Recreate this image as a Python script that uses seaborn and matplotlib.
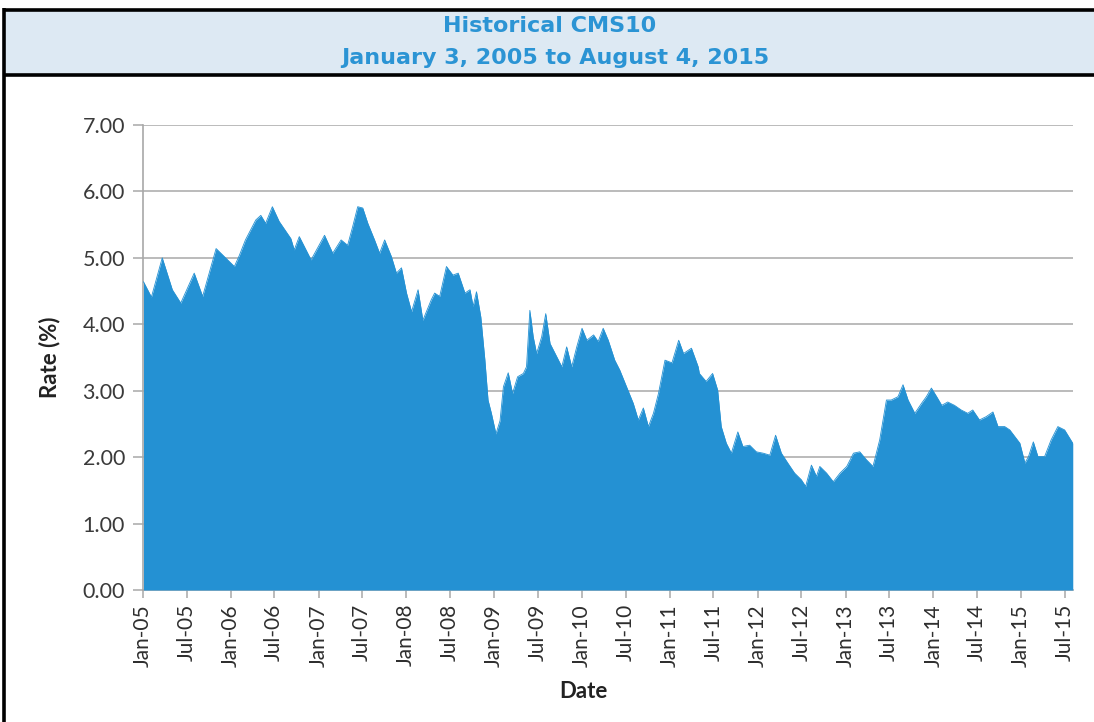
import pandas as pd
import numpy as np
import matplotlib
matplotlib.use("Agg")
import matplotlib.pyplot as plt
import matplotlib.dates as mdates
from matplotlib.patches import Rectangle
from matplotlib.lines import Line2D
import seaborn as sns

# Werte (CMS10, %)
dates = [
    "2005-01-03", "2005-02-05", "2005-03-22", "2005-05-03", "2005-06-07", "2005-08-02",
    "2005-09-06", "2005-11-01", "2005-12-05", "2006-01-16", "2006-02-06", "2006-03-03",
    "2006-04-15", "2006-05-06", "2006-05-26", "2006-06-23", "2006-07-21", "2006-09-08",
    "2006-09-22", "2006-10-13", "2006-12-01", "2007-01-26", "2007-03-01", "2007-04-05",
    "2007-05-02", "2007-05-23", "2007-06-13", "2007-07-04", "2007-07-25", "2007-08-22",
    "2007-09-12", "2007-10-03", "2007-10-31", "2007-11-21", "2007-12-12", "2008-01-02",
    "2008-01-23", "2008-02-19", "2008-03-10", "2008-04-14", "2008-04-28", "2008-05-19",
    "2008-06-16", "2008-07-13", "2008-08-04", "2008-09-01", "2008-09-22", "2008-10-05",
    "2008-10-19", "2008-11-06", "2008-11-23", "2008-12-06", "2008-12-20", "2009-01-08",
    "2009-01-25", "2009-02-08", "2009-02-28", "2009-03-18", "2009-04-08", "2009-05-02",
    "2009-05-15", "2009-05-29", "2009-06-12", "2009-06-26", "2009-07-17", "2009-08-03",
    "2009-08-21", "2009-09-18", "2009-10-09", "2009-10-29", "2009-11-19", "2009-12-10",
    "2010-01-01", "2010-01-21", "2010-02-18", "2010-03-09", "2010-03-30", "2010-04-20",
    "2010-05-17", "2010-06-07", "2010-07-05", "2010-08-02", "2010-08-23", "2010-09-13",
    "2010-10-04", "2010-10-25", "2010-11-15", "2010-12-12", "2011-01-10", "2011-02-07",
    "2011-02-27", "2011-04-01", "2011-04-29", "2011-05-04", "2011-06-01", "2011-06-28",
    "2011-07-19", "2011-08-03", "2011-08-24", "2011-09-14", "2011-10-11", "2011-11-01",
    "2011-11-29", "2011-12-27", "2012-01-24", "2012-02-21", "2012-03-16", "2012-04-09",
    "2012-05-06", "2012-06-03", "2012-07-01", "2012-07-19", "2012-08-12", "2012-09-02",
    "2012-09-16", "2012-10-14", "2012-11-11", "2012-12-09", "2013-01-06", "2013-02-03",
    "2013-03-01", "2013-03-29", "2013-04-25", "2013-05-23", "2013-06-20", "2013-07-10",
    "2013-08-07", "2013-08-28", "2013-09-18", "2013-10-16", "2013-11-13", "2013-12-03",
    "2013-12-24", "2014-01-15", "2014-02-05", "2014-03-02", "2014-03-30", "2014-04-27",
    "2014-05-24", "2014-06-14", "2014-07-12", "2014-08-09", "2014-09-06", "2014-09-27",
    "2014-10-25", "2014-11-15", "2014-12-06", "2014-12-27", "2015-01-17", "2015-02-01",
    "2015-02-21", "2015-03-12", "2015-04-09", "2015-05-06", "2015-06-03", "2015-07-01",
    "2015-08-04",
]
rates = [
    4.64, 4.41, 5.00, 4.52, 4.32, 4.77,
    4.42, 5.14, 5.02, 4.87, 5.04, 5.27,
    5.57, 5.64, 5.52, 5.77, 5.55, 5.29,
    5.12, 5.32, 4.97, 5.34, 5.07, 5.27,
    5.19, 5.47, 5.77, 5.75, 5.52, 5.27,
    5.07, 5.27, 5.02, 4.77, 4.85, 4.47,
    4.19, 4.52, 4.06, 4.37, 4.47, 4.42,
    4.87, 4.74, 4.77, 4.47, 4.52, 4.27,
    4.49, 4.11, 3.46, 2.86, 2.66, 2.35,
    2.55, 3.06, 3.27, 2.96, 3.21, 3.26,
    3.36, 4.21, 3.81, 3.56, 3.81, 4.16,
    3.71, 3.51, 3.36, 3.66, 3.36, 3.66,
    3.94, 3.76, 3.84, 3.74, 3.94, 3.76,
    3.46, 3.31, 3.06, 2.81, 2.56, 2.74,
    2.46, 2.66, 2.96, 3.46, 3.42, 3.76,
    3.56, 3.64, 3.36, 3.26, 3.14, 3.26,
    3.01, 2.46, 2.21, 2.06, 2.38, 2.16,
    2.18, 2.08, 2.06, 2.03, 2.33, 2.06,
    1.91, 1.76, 1.66, 1.56, 1.88, 1.71,
    1.86, 1.76, 1.63, 1.76, 1.86, 2.06,
    2.08, 1.96, 1.86, 2.26, 2.86, 2.86,
    2.91, 3.09, 2.86, 2.66, 2.81, 2.91,
    3.04, 2.91, 2.78, 2.83, 2.78, 2.71,
    2.66, 2.71, 2.56, 2.61, 2.68, 2.46,
    2.46, 2.41, 2.31, 2.21, 1.91, 2.01,
    2.23, 2.01, 2.01, 2.26, 2.46, 2.41,
    2.21,
]
y_ticks = [0, 1, 2, 3, 4, 5, 6, 7]
title_lines = ["Historical CMS10", "January 3, 2005 to August 4, 2015"]

df = pd.DataFrame({"Date": pd.to_datetime(dates), "Rate": rates})

sns.set_style("white")
plt.rcParams['font.family'] = ['Lato', 'DejaVu Sans']

fill_col = '#2491d3'
title_col = '#2b94d4'
W, H = 1094, 722
fig = plt.figure(figsize=(W / 100, H / 100), dpi=100)
fig.patch.set_facecolor('white')

# Kopfzeile mit Rahmen (rechts offen, wie im Original)
fig.patches.append(Rectangle((4 / W, 1 - 74 / H), 1.1, 65 / H, transform=fig.transFigure,
                             facecolor='#dde9f3', edgecolor='none', zorder=0))
for xs, ys in [([4 / W, 1.0], [1 - 9.5 / H] * 2), ([4 / W, 1.0], [1 - 74.5 / H] * 2),
               ([4 / W] * 2, [1 - 8 / H, 0])]:
    fig.lines.append(Line2D(xs, ys, transform=fig.transFigure, color='black', linewidth=2.6,
                            solid_capstyle='butt'))
fig.text(550 / W, 1 - 26 / H, title_lines[0], ha='center', va='center', color=title_col,
         fontsize=16, fontweight='bold', family=['DejaVu Sans'])
fig.text(555 / W, 1 - 58 / H, title_lines[1], ha='center', va='center', color=title_col,
         fontsize=16, fontweight='bold', family=['DejaVu Sans'])

ax = fig.add_axes([143 / W, 1 - 590 / H, (1073 - 143) / W, (590 - 125) / H])
sns.lineplot(data=df, x="Date", y="Rate", color=fill_col, linewidth=0.6, ax=ax, zorder=3)
ax.fill_between(df["Date"], 0, df["Rate"], color=fill_col, linewidth=0, zorder=3)

ax.set_ylim(0, 7)
ax.set_xlim(pd.Timestamp("2005-01-01"), pd.Timestamp("2015-08-05"))
ax.set_yticks(y_ticks)
ax.set_yticklabels([f"{v:.2f}" for v in y_ticks])
ax.yaxis.grid(True, color='#b5b5b5', linewidth=1.3)
ax.xaxis.grid(False)
ax.set_axisbelow(True)

ax.xaxis.set_major_locator(mdates.MonthLocator(bymonth=[1, 7]))
ax.xaxis.set_major_formatter(mdates.DateFormatter('%b-%y'))
plt.setp(ax.get_xticklabels(), rotation=90, ha='center', va='top')

for s in ['top', 'right']:
    ax.spines[s].set_visible(False)
for s in ['left', 'bottom']:
    ax.spines[s].set_color('#a8a8a8')
    ax.spines[s].set_linewidth(1.2)

ax.tick_params(axis='x', which='major', bottom=True, length=6, width=1.1, color='#a8a8a8',
               labelsize=15, labelcolor='#2e2e2e', pad=4)
ax.tick_params(axis='y', which='major', left=True, length=7, width=1.1, color='#a8a8a8',
               labelsize=15.5, labelcolor='#3a3a3a', pad=6)

ax.set_xlabel("Date", fontsize=16, fontweight='bold', color='#222222')
ax.set_ylabel("Rate (%)", fontsize=16, fontweight='bold', color='#222222')
ax.xaxis.set_label_coords((583 - 143) / 930, -(692 - 590) / 465)
ax.yaxis.set_label_coords(-(143 - 50) / 930, 0.5)
ax.xaxis.label.set_va('center')
ax.yaxis.label.set_va('center')

fig.savefig("out.png", dpi=100, facecolor='white')
